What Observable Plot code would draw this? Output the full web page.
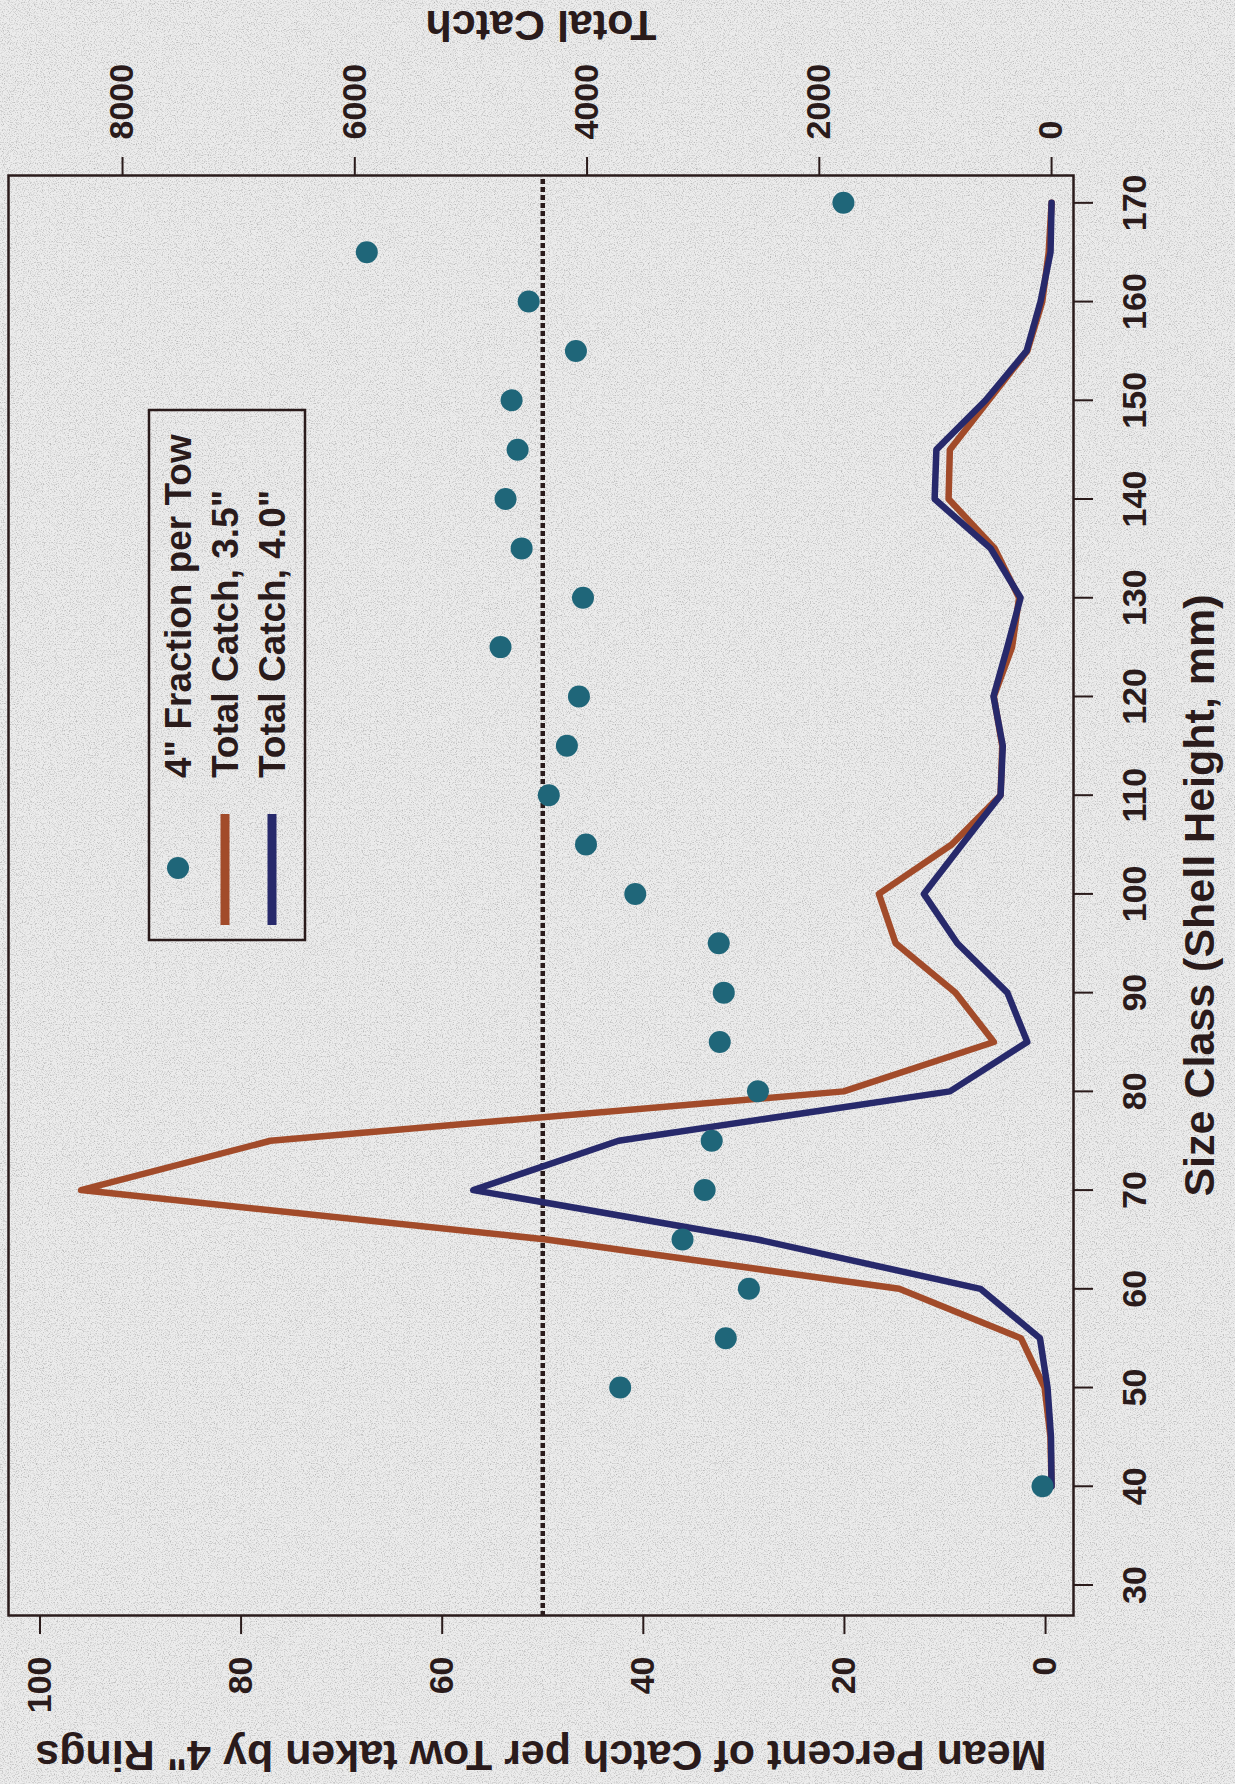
<!DOCTYPE html>
<html><head><meta charset="utf-8">
<script src="https://cdn.jsdelivr.net/npm/d3@7"></script>
<script src="https://cdn.jsdelivr.net/npm/@observablehq/plot@0.6"></script>
<style>
html,body{margin:0;padding:0;background:#e8e8e8;width:1235px;height:1784px;overflow:hidden;}
#bg{position:absolute;left:0;top:0;}
#wrap{position:absolute;left:0;top:0;width:1784px;height:1235px;transform-origin:0 0;transform:translate(0,1784px) rotate(-90deg);}
</style></head><body>
<svg id="bg" width="1235" height="1784"><defs><filter id="grain" x="0" y="0" width="100%" height="100%"><feTurbulence type="fractalNoise" baseFrequency="0.85" numOctaves="2" seed="7"/><feColorMatrix type="matrix" values="0 0 0 0 0.45  0 0 0 0 0.45  0 0 0 0 0.45  2.6 0 0 0 -1.25"/></filter></defs><rect width="1235" height="1784" fill="#ececec"/><rect width="1235" height="1784" filter="url(#grain)"/></svg>
<div id="wrap"></div>
<script>
// ---- data ----
const sizeClasses = [40,45,50,55,60,65,70,75,80,85,90,95,100,105,110,115,120,125,130,135,140,145,150,155,160,165,170];
const catch35 = [0,10,60,264,1312,4350,8357,6726,1790,497,827,1343,1487,860,439,425,497,340,280,490,887,876,542,209,80,25,0];
const catch40 = [0,5,35,100,613,2534,4980,3729,875,209,381,812,1100,771,439,420,500,381,267,525,1007,992,568,215,95,9,0];
const fractionSizes = [40,50,55,60,65,70,75,80,85,90,95,100,105,110,115,120,125,130,135,140,145,150,155,160,165,170];
const fractionPct = [0.3,42.3,31.8,29.5,36.1,33.9,33.2,28.6,32.4,32.0,32.5,40.8,45.7,49.4,47.6,46.4,54.2,46.0,52.1,53.7,52.5,53.1,46.7,51.4,67.5,20.1];
const sizeTicks = [30,40,50,60,70,80,90,100,110,120,130,140,150,160,170];
const pctTicks = [0,20,40,60,80,100];
const catchTicks = [0,2000,4000,6000,8000];
const refLevel = [50];
const legendLabels = ['4" Fraction per Tow', 'Total Catch, 3.5"', 'Total Catch, 4.0"'];
const xTitle = "Size Class (Shell Height, mm)";
const yTitle = 'Mean Percent of Catch per Tow taken by 4" Rings';
const y2Title = "Total Catch";

// secondary axis mapping (catch -> percent units)
const K = 86.59, OFF = 0.6;
const toPct = c => c / K - OFF;

const INK = "#2a1b1b";
const TEAL = "#1f6679";
const BROWN = "#a24b2a";
const NAVY = "#27296b";
const FONT = "'Liberation Sans', Arial, Helvetica, sans-serif";

const plot = Plot.plot({
  width: 1784,
  height: 1235,
  marginLeft: 168,
  marginRight: 176,
  marginTop: 8,
  marginBottom: 162,
  style: {fontFamily: FONT, fontWeight: "bold", fontSize: "34px", color: INK, background: "transparent"},
  x: {domain: [26.91, 172.77], axis: null},
  y: {domain: [-2.78, 103.13], axis: null},
  marks: [
    Plot.ruleY(refLevel, {stroke: INK, strokeWidth: 4.5, strokeDasharray: "5,3"}),
    Plot.line(sizeClasses, {x: d => d, y: (d, i) => toPct(catch35[i]), stroke: BROWN, strokeWidth: 6.5}),
    Plot.line(sizeClasses, {x: d => d, y: (d, i) => toPct(catch40[i]), stroke: NAVY, strokeWidth: 6.5}),
    Plot.dot(fractionSizes, {x: d => d, y: (d, i) => fractionPct[i], r: 11, fill: TEAL}),
    Plot.frame({stroke: INK, strokeWidth: 2.5}),
    Plot.axisX(sizeTicks, {anchor: "bottom", tickSize: 20, tickPadding: 28, strokeWidth: 2, label: null, fontSize: 34, tickFormat: d => String(d)}),
    Plot.axisY(pctTicks, {anchor: "left", tickSize: 18, tickPadding: 23, strokeWidth: 2, label: null, fontSize: 34, tickFormat: d => String(d)}),
    Plot.axisY(catchTicks.map(toPct), {anchor: "right", tickSize: 18, tickPadding: 18, strokeWidth: 2, label: null, fontSize: 34, tickFormat: d => String(Math.round((d + OFF) * K))}),
    Plot.text([xTitle], {text: d => d, frameAnchor: "bottom", dy: 140, lineAnchor: "bottom", fontSize: 43, fontWeight: "bold", fill: INK}),
    Plot.text([yTitle], {text: d => d, frameAnchor: "left", dx: -125, rotate: -90, textAnchor: "middle", lineAnchor: "bottom", fontSize: 43, fontWeight: "bold", fill: INK}),
    Plot.text([y2Title], {text: d => d, frameAnchor: "right", dx: 165, rotate: -90, textAnchor: "middle", lineAnchor: "bottom", fontSize: 43, fontWeight: "bold", fill: INK})
  ]
});

// legend (drawn in pixel space inside the plot area)
const svg = d3.select(plot);
const lg = svg.append("g").attr("font-family", FONT).attr("font-weight", "bold").attr("font-size", 37).attr("text-anchor", "start");
lg.append("rect").attr("x", 844).attr("y", 149).attr("width", 530).attr("height", 156)
  .attr("fill", "none").attr("stroke", INK).attr("stroke-width", 2.5);
const rows = [178, 225, 272];
lg.append("circle").attr("cx", 916).attr("cy", rows[0]).attr("r", 11).attr("fill", TEAL);
lg.append("line").attr("x1", 859).attr("x2", 970).attr("y1", rows[1]).attr("y2", rows[1]).attr("stroke", BROWN).attr("stroke-width", 9);
lg.append("line").attr("x1", 859).attr("x2", 970).attr("y1", rows[2]).attr("y2", rows[2]).attr("stroke", NAVY).attr("stroke-width", 9);
legendLabels.forEach((t, i) => {
  lg.append("text").attr("x", 1006).attr("y", rows[i]).attr("dy", "0.35em").attr("text-anchor", "start").attr("fill", INK).text(t);
});

document.getElementById("wrap").appendChild(plot);
</script>
</body></html>
